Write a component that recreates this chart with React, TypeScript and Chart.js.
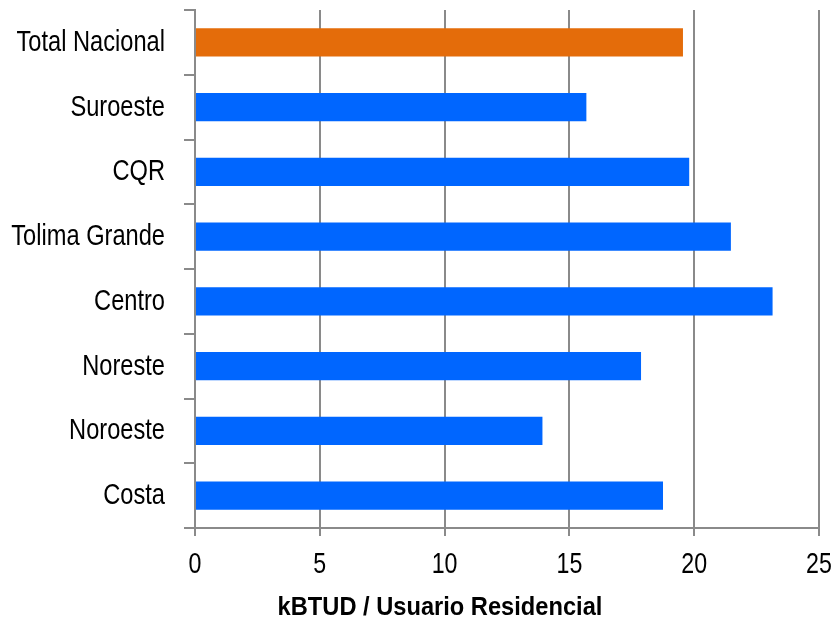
import React, { useEffect, useRef } from "react";
import { Chart, registerables } from "chart.js";

Chart.register(...registerables);

// Regions, listed top to bottom
const regions = [
  "Total Nacional",
  "Suroeste",
  "CQR",
  "Tolima Grande",
  "Centro",
  "Noreste",
  "Noroeste",
  "Costa",
];

// Residential consumption per user (kBTUD)
const consumo = [19.55, 15.68, 19.8, 21.47, 23.14, 17.87, 13.92, 18.75];

const xTicks = [0, 5, 10, 15, 20, 25];

const axisTitle = "kBTUD / Usuario Residencial";

const ORANGE = "#E46C0A";
const BLUE = "#0066FF";
const GRID = "#8A8A8A";
const FONT = "'Liberation Sans', Arial, sans-serif";

// Draws text squeezed horizontally, giving a narrow typeface look
function drawCondensed(ctx: CanvasRenderingContext2D, text: string, x: number, y: number, k: number) {
  ctx.save();
  ctx.translate(x, y);
  ctx.scale(k, 1);
  ctx.fillText(text, 0, 0);
  ctx.restore();
}

const condensedLabels = {
  id: "condensedLabels",
  afterDraw(chart: any) {
    const ctx: CanvasRenderingContext2D = chart.ctx;
    const xs = chart.scales.x;
    const ys = chart.scales.y;
    ctx.save();
    ctx.fillStyle = "#000";
    ctx.textBaseline = "alphabetic";

    // category labels
    ctx.font = `29px ${FONT}`;
    ctx.textAlign = "right";
    regions.forEach((r, i) => {
      drawCondensed(ctx, r, ys.right - 30, ys.getPixelForValue(i) + 8.5, 0.815);
    });

    // value axis labels
    ctx.textAlign = "center";
    xTicks.forEach((v) => {
      drawCondensed(ctx, String(v), xs.getPixelForValue(v), xs.top + 45, 0.8);
    });

    // value axis title
    ctx.font = `bold 26px ${FONT}`;
    drawCondensed(ctx, axisTitle, xs.left + 245, xs.bottom - 20, 0.91);
    ctx.restore();
  },
};

export default function App() {
  const canvasRef = useRef<HTMLCanvasElement | null>(null);

  useEffect(() => {
    if (!canvasRef.current) return;
    const colors = regions.map((r) => (r === "Total Nacional" ? ORANGE : BLUE));
    const chart = new Chart(canvasRef.current, {
      type: "bar",
      data: {
        labels: regions,
        datasets: [
          {
            data: consumo,
            backgroundColor: colors,
            borderWidth: 0,
            categoryPercentage: 1,
            barPercentage: 0.435,
          },
        ],
      },
      plugins: [condensedLabels],
      options: {
        indexAxis: "y",
        animation: false,
        responsive: true,
        maintainAspectRatio: false,
        layout: { padding: { top: 10, right: 19, bottom: 0, left: 0 } },
        plugins: {
          legend: { display: false },
          tooltip: { enabled: false },
        },
        scales: {
          x: {
            type: "linear",
            min: xTicks[0],
            max: xTicks[xTicks.length - 1],
            afterBuildTicks: (scale: any) => {
              scale.ticks = xTicks.map((v) => ({ value: v }));
            },
            afterFit: (scale: any) => {
              scale.height = 107;
            },
            grid: {
              color: GRID,
              lineWidth: 2,
              tickLength: 8,
              drawOnChartArea: true,
            },
            border: { color: GRID, width: 2 },
            ticks: { display: false },
          },
          y: {
            type: "category",
            afterFit: (scale: any) => {
              scale.width = 195;
            },
            grid: {
              color: GRID,
              lineWidth: 2,
              tickLength: 11,
              drawOnChartArea: false,
              offset: true,
            },
            border: { color: GRID, width: 2 },
            ticks: { display: false },
          },
        },
      },
    });
    return () => chart.destroy();
  }, []);

  return (
    <div style={{ position: "fixed", left: 0, top: 0, width: 838, height: 635, background: "#fff" }}>
      <canvas ref={canvasRef} />
    </div>
  );
}
